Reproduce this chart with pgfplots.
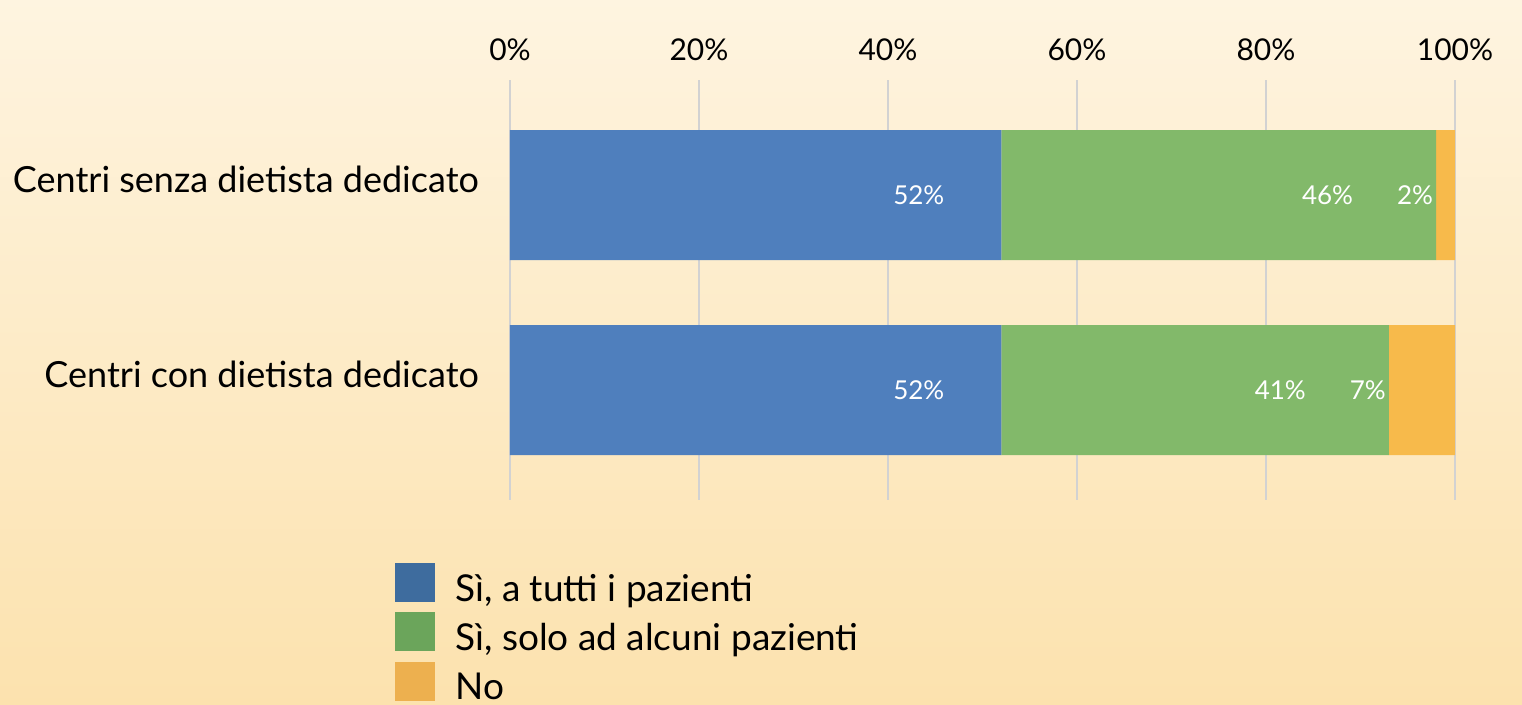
\documentclass[border=0pt]{standalone}
\usepackage{fontspec}
\setmainfont{Lato}
\usepackage{pgfplots}
\usepackage{pgfplotstable}
\pgfplotsset{compat=1.18}
\definecolor{barblue}{HTML}{4F7FBD}
\definecolor{bargreen}{HTML}{82B96A}
\definecolor{barorange}{HTML}{F7BA4B}
\definecolor{legblue}{HTML}{3E6C9E}
\definecolor{leggreen}{HTML}{6BA55B}
\definecolor{legorange}{HTML}{EDB04F}
\definecolor{bgtop}{HTML}{FEF4E0}
\definecolor{bgmid}{HTML}{FFFAF1}
\definecolor{bgbot}{HTML}{FCE2AE}
\pgfplotstableread{
y a b c
1 52 46 2
0 52 41 7
}\datatable
\begin{document}
\begin{tikzpicture}
\fill[top color=bgtop, middle color=bgmid, bottom color=bgbot] (0,0) rectangle (761pt,352.5pt);
\useasboundingbox (0,0) rectangle (761pt,352.5pt);
\begin{axis}[
  at={(255pt,102.5pt)}, anchor=south west,
  scale only axis, width=472.5pt, height=210pt,
  xbar stacked, bar width=65pt,
  xmin=0, xmax=100, ymin=-0.564, ymax=1.59,
  xtick={0,20,40,60,80,100},
  xticklabel pos=top,
  xticklabel={\pgfmathprintnumber{\tick}\%},
  ytick={0,1},
  yticklabels={Centri con dietista dedicato, Centri senza dietista dedicato},
  axis line style={draw=none},
  major tick length=0pt,
  xmajorgrids,
  grid style={gray!35, line width=0.6pt},
  xticklabel style={font=\fontsize{15}{17}\selectfont, yshift=6pt},
  yticklabel style={font=\fontsize{18}{21}\selectfont, yshift=8pt, xshift=-12pt},
  /pgf/number format/assume math mode=true,
  legend style={at={(-0.1217,-0.15)}, anchor=north west, draw=none, fill=none,
    font=\fontsize{18.5}{21}\selectfont, row sep=2pt, inner sep=0pt,
    /tikz/every odd column/.style={column sep=8pt}},
  legend cell align=left,
  legend image code/.code={\fill[#1] (0pt,-6.5pt) rectangle (20pt,13pt);},
]
\addplot[fill=barblue, draw=none, forget plot, point meta=explicit,
  visualization depends on={\thisrow{a} \as \aval},
  nodes near coords={\pgfmathprintnumber{\pgfplotspointmeta}\%},
  nodes near coords style={anchor=east, xshift={\aval*4.725pt/2-25pt}, text=white, font=\fontsize{13}{15}\selectfont}]
  table[x=a, y=y, meta=a]{\datatable};
\addplot[fill=bargreen, draw=none, forget plot, point meta=explicit,
  visualization depends on={\thisrow{b} \as \bval},
  nodes near coords={\pgfmathprintnumber{\pgfplotspointmeta}\%},
  nodes near coords style={anchor=east, xshift={\bval*4.725pt/2-38pt}, text=white, font=\fontsize{13}{15}\selectfont}]
  table[x=b, y=y, meta=b]{\datatable};
\addplot[fill=barorange, draw=none, forget plot, point meta=explicit,
  visualization depends on={\thisrow{c} \as \cval},
  nodes near coords={\pgfmathprintnumber{\pgfplotspointmeta}\%},
  nodes near coords style={anchor=east, xshift={-\cval*4.725pt/2+2pt}, text=white, font=\fontsize{13}{15}\selectfont}]
  table[x=c, y=y, meta=c]{\datatable};
\addlegendimage{fill=legblue, draw=none}
\addlegendentry{Sì, a tutti i pazienti}
\addlegendimage{fill=leggreen, draw=none}
\addlegendentry{Sì, solo ad alcuni pazienti}
\addlegendimage{fill=legorange, draw=none}
\addlegendentry{No}
\end{axis}
\end{tikzpicture}
\end{document}
